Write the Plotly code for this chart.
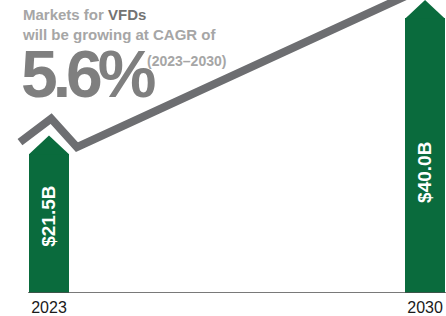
import plotly.graph_objects as go

# ---- data ----
years = [2023, 2030]
values = [21.5, 40.0]          # market size, $B
tick_labels = ["2023", "2030"]
cagr_text = "5.6%"
period_text = "(2023–2030)"

# ---- style / layout constants ----
W, H = 446, 316
MB = 23
PLOT_H = H - MB
GREEN = "#0a6b3d"
LINE_GRAY = "#6d6e71"
FONT = "Liberation Sans, Arial, sans-serif"
X_RANGE = [2022.088, 2030.39]
Y_RANGE = [0, 40]
BAR_W = 0.745
HEAD = 2.5                      # arrow head height in data units
LABEL_FRAC = [0.49, 0.41]       # vertical placement of labels inside bars

fig = go.Figure()

# bar bodies
fig.add_trace(go.Bar(
    x=years, y=[v - HEAD for v in values], width=BAR_W,
    marker=dict(color=GREEN, line=dict(width=0)), showlegend=False,
    hoverinfo="skip"))

# arrow heads
for x, v in zip(years, values):
    fig.add_trace(go.Scatter(
        x=[x - BAR_W / 2, x, x + BAR_W / 2, x - BAR_W / 2],
        y=[v - HEAD - 0.05, v, v - HEAD - 0.05, v - HEAD - 0.05],
        fill="toself", fillcolor=GREEN, mode="lines",
        line=dict(width=0, color=GREEN), showlegend=False, hoverinfo="skip"))

# trend line with chevron above the first arrow
x0, v0 = years[0], values[0]
x1, v1 = years[1], values[1]
start = (x0 + 0.52, v0 - 1.6)
end = (x1 - 0.52, v1)
slope = (end[1] - start[1]) / (end[0] - start[0])
ext_x = X_RANGE[1]
fig.add_trace(go.Scatter(
    x=[x0 - 0.54, x0 + 0.04, start[0], ext_x],
    y=[v0 - 0.9, v0 + 2.3, start[1], start[1] + slope * (ext_x - start[0])],
    mode="lines", line=dict(color=LINE_GRAY, width=8),
    showlegend=False, hoverinfo="skip"))

# value labels inside bars
for x, v, f in zip(years, values, LABEL_FRAC):
    fig.add_annotation(x=x, y=v * f, xref="x", yref="y",
                       text=f"${v:.1f}B", textangle=-90, showarrow=False,
                       font=dict(family=FONT, size=19, color="white", weight="bold"))

def px_x(p):
    return p / W

def px_y(p):
    return 1 - p / PLOT_H

# headline texts
fig.add_annotation(
    x=px_x(20), y=px_y(4), xref="paper", yref="paper", xanchor="left", yanchor="top",
    align="left", showarrow=False,
    text="Markets for <span style='color:#737373'>VFDs</span><br>will be growing at CAGR of",
    font=dict(family=FONT, size=15, color="#a6a6a6", weight="bold"))
fig.add_annotation(
    x=px_x(19), y=px_y(74), xref="paper", yref="paper", xanchor="left", yanchor="middle",
    showarrow=False, text=f"<span style='letter-spacing:-5px'>{cagr_text}</span>",
    font=dict(family=FONT, size=66, color="#7f7f7f", weight="bold"))
fig.add_annotation(
    x=px_x(145), y=px_y(61), xref="paper", yref="paper", xanchor="left", yanchor="middle",
    showarrow=False, text=period_text,
    font=dict(family=FONT, size=14, color="#a6a6a6", weight="bold"))

# baseline
fig.add_shape(type="line", xref="x", yref="y", x0=2022.61, x1=X_RANGE[1], y0=0, y1=0,
              line=dict(color="#4d4d4d", width=1.5), layer="above")

fig.update_layout(
    width=W, height=H, margin=dict(l=0, r=0, t=0, b=MB),
    paper_bgcolor="white", plot_bgcolor="white",
    xaxis=dict(range=X_RANGE, tickvals=years, ticktext=tick_labels, showgrid=False,
               zeroline=False, showline=False, ticks="", ticklabelstandoff=3,
               tickfont=dict(family=FONT, size=16, color="#1a1a1a")),
    yaxis=dict(range=Y_RANGE, visible=False, showgrid=False, zeroline=False),
    bargap=0,
)

fig.write_html("out.html", config={"displayModeBar": False},
               post_script="document.body.style.margin='0';document.body.style.overflow='hidden';")
